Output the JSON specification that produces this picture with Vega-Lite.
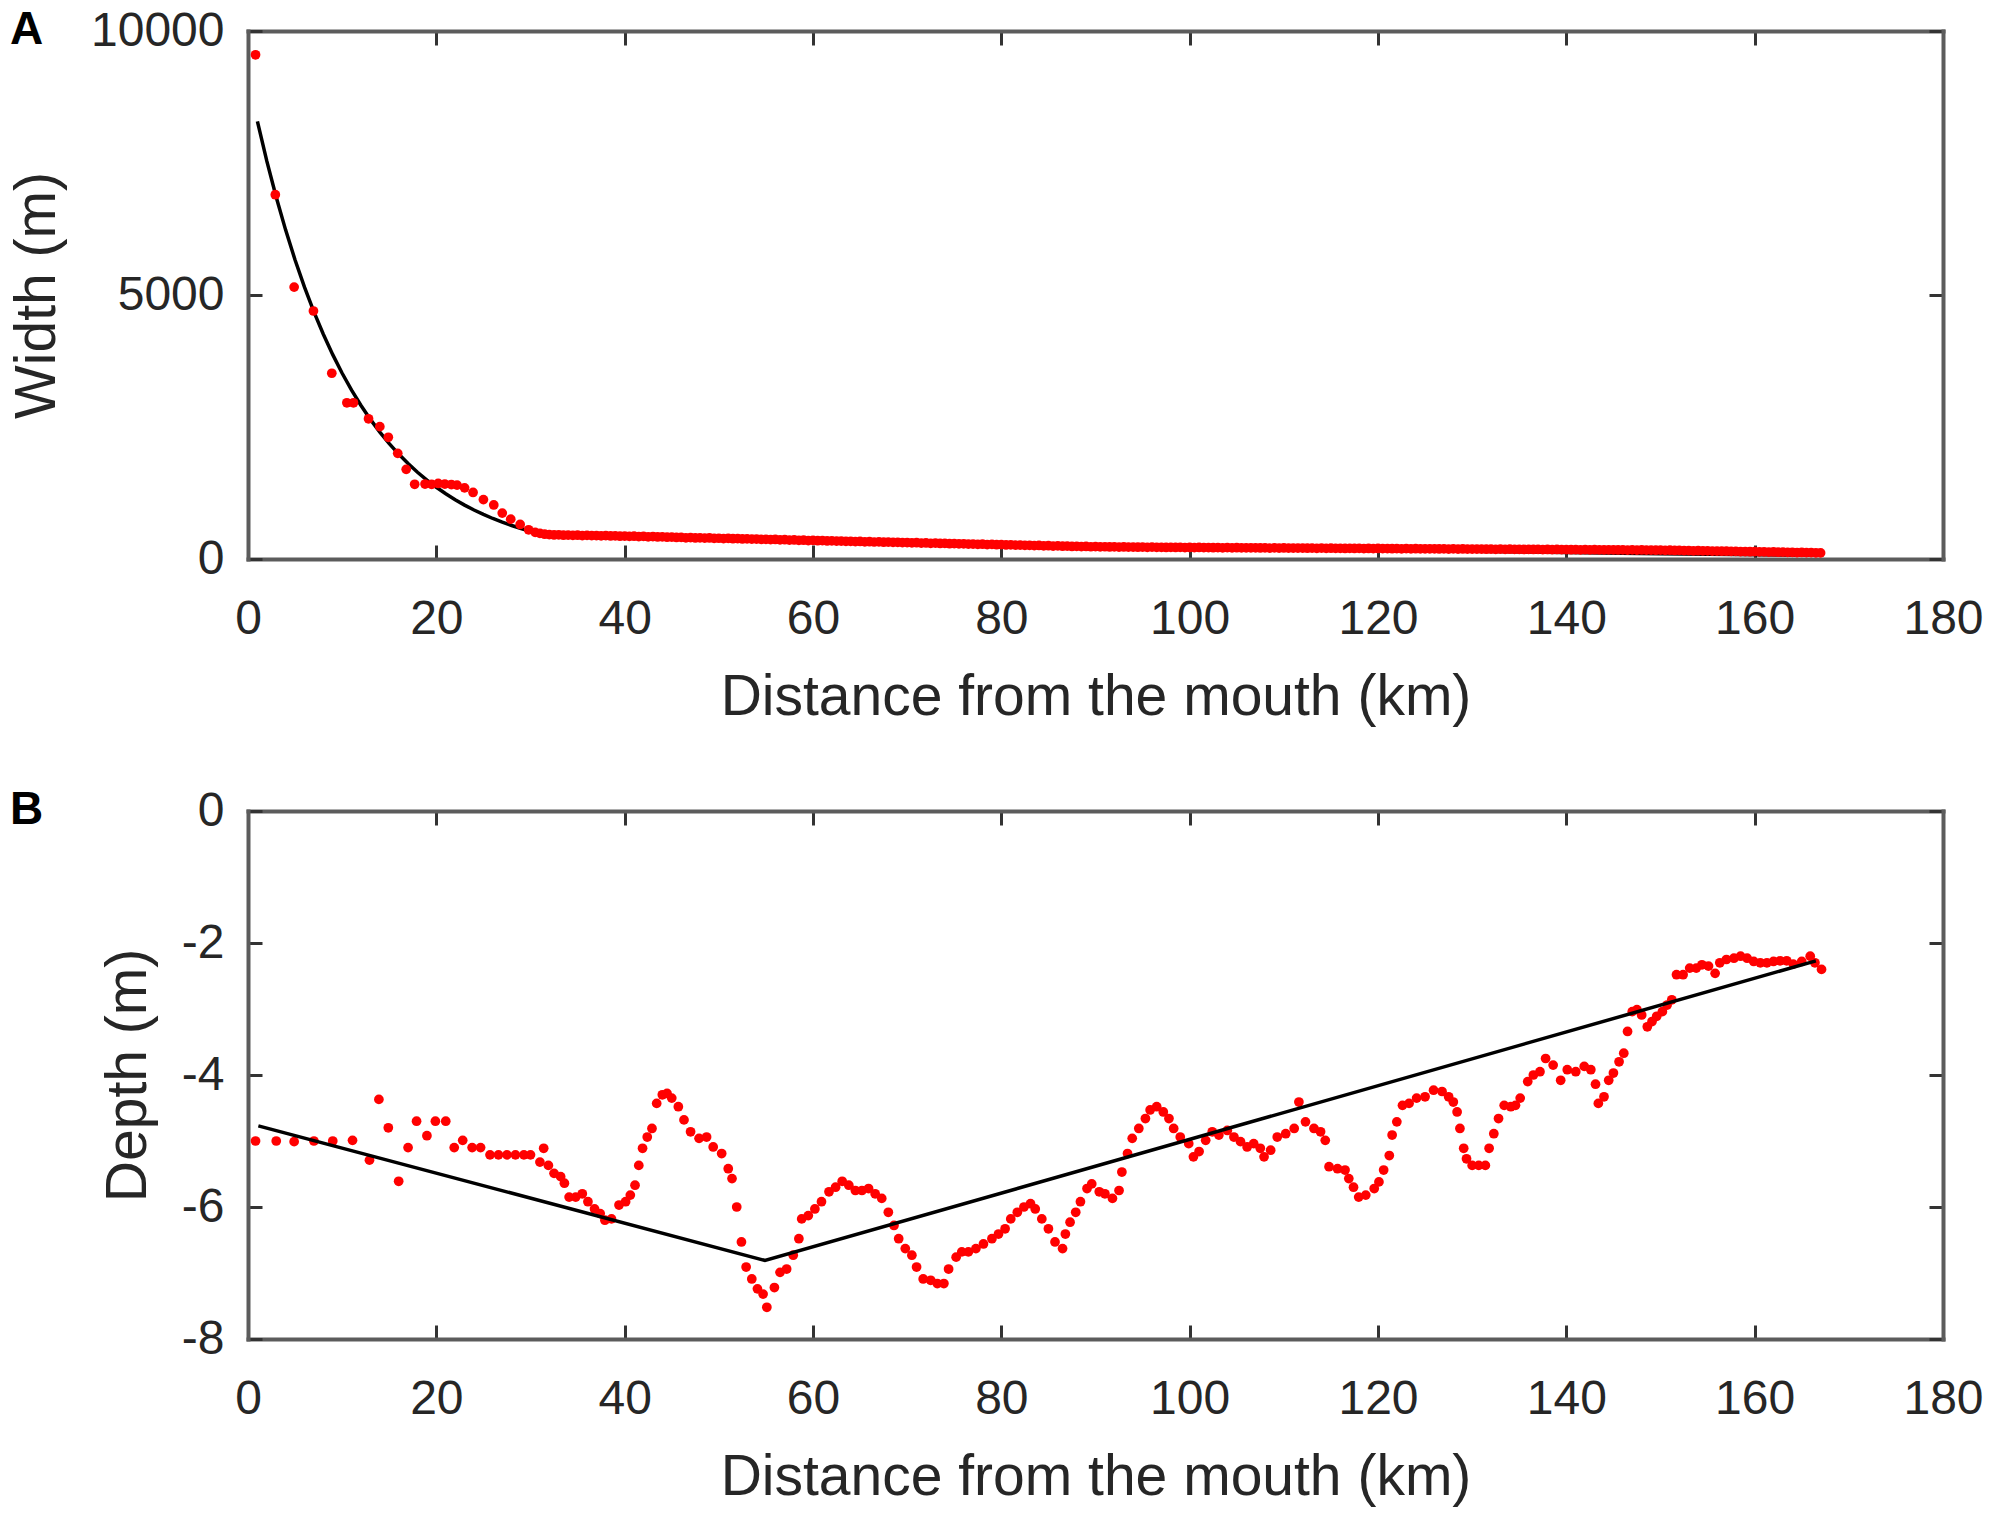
{
  "$schema": "https://vega.github.io/schema/vega-lite/v6.json",
  "padding": {"left": 8, "top": 7, "right": 5, "bottom": 5},
  "background": "white",
  "spacing": 62,
  "config": {
    "font": "Liberation Sans",
    "view": {"stroke": null},
    "axis": {
      "domainColor": "#5c5c5c",
      "domainWidth": 4,
      "domainCap": "square",
      "tickColor": "#333333",
      "tickWidth": 3,
      "tickSize": -14,
      "labelFont": "Liberation Sans",
      "labelFontSize": 48,
      "labelColor": "#262626",
      "titleFont": "Liberation Sans",
      "titleFontSize": 57,
      "titleFontWeight": "normal",
      "titleColor": "#262626",
      "grid": false,
      "labelFlush": false,
      "labelOverlap": false
    },
    "title": {"fontSize": 46, "fontWeight": "bold", "anchor": "start", "frame": "group", "color": "black", "offset": -47, "dx": -238}
  },
  "datasets": {
    "widthFit": [
      {"km": 1, "w": 8288}, {"km": 2, "w": 7535}, {"km": 3, "w": 6851}, {"km": 4, "w": 6229}, {"km": 5, "w": 5663},
      {"km": 6, "w": 5149}, {"km": 7, "w": 4681}, {"km": 8, "w": 4256}, {"km": 9, "w": 3870}, {"km": 10, "w": 3518},
      {"km": 11, "w": 3199}, {"km": 12, "w": 2908}, {"km": 13, "w": 2644}, {"km": 14, "w": 2404}, {"km": 15, "w": 2186},
      {"km": 16, "w": 1987}, {"km": 17, "w": 1807}, {"km": 18, "w": 1643}, {"km": 19, "w": 1494}, {"km": 20, "w": 1358},
      {"km": 21, "w": 1235}, {"km": 22, "w": 1123}, {"km": 23, "w": 1021}, {"km": 24, "w": 928}, {"km": 25, "w": 844},
      {"km": 26, "w": 767}, {"km": 27, "w": 697}, {"km": 28, "w": 634}, {"km": 29, "w": 577}, {"km": 30, "w": 524},
      {"km": 31, "w": 476}, {"km": 40, "w": 430}, {"km": 60, "w": 350}, {"km": 80, "w": 285}, {"km": 100, "w": 225},
      {"km": 120, "w": 170}, {"km": 134, "w": 135}, {"km": 150, "w": 100}, {"km": 167, "w": 70}
    ],
    "width": [
      {"km": 0.8, "w": 9550}, {"km": 2.9, "w": 6900}, {"km": 4.9, "w": 5150}, {"km": 6.95, "w": 4697}, {"km": 8.9, "w": 3518},
      {"km": 10.5, "w": 2958}, {"km": 11.2, "w": 2958}, {"km": 12.8, "w": 2655}, {"km": 14.0, "w": 2507}, {"km": 14.9, "w": 2305},
      {"km": 15.9, "w": 2001}, {"km": 16.8, "w": 1698}, {"km": 17.7, "w": 1415}, {"km": 18.8, "w": 1420}, {"km": 19.5, "w": 1415},
      {"km": 20.2, "w": 1430}, {"km": 20.9, "w": 1420}, {"km": 21.6, "w": 1410}, {"km": 22.2, "w": 1400}, {"km": 23.0, "w": 1348},
      {"km": 23.9, "w": 1260}, {"km": 25.0, "w": 1125}, {"km": 26.1, "w": 1024}, {"km": 27.0, "w": 869}, {"km": 27.9, "w": 755},
      {"km": 28.9, "w": 654}, {"km": 29.8, "w": 553}, {"km": 30.5, "w": 505},
      {"km": 31, "w": 485}, {"km": 31.5, "w": 470}, {"km": 32, "w": 462}, {"km": 32.5, "w": 455}, {"km": 33, "w": 458},
      {"km": 33.5, "w": 450}, {"km": 34, "w": 452}, {"km": 34.5, "w": 447}, {"km": 35, "w": 450}, {"km": 35.5, "w": 445},
      {"km": 36, "w": 448}, {"km": 36.5, "w": 442}, {"km": 37, "w": 444}, {"km": 37.5, "w": 440}, {"km": 38, "w": 442},
      {"km": 38.5, "w": 436}, {"km": 39, "w": 438}, {"km": 39.5, "w": 432}, {"km": 40, "w": 435}, {"km": 40.5, "w": 430},
      {"km": 41, "w": 432}, {"km": 41.5, "w": 426}, {"km": 42, "w": 428}, {"km": 42.5, "w": 420}, {"km": 43, "w": 425},
      {"km": 43.5, "w": 418}, {"km": 44, "w": 420}, {"km": 44.5, "w": 412}, {"km": 45, "w": 415}, {"km": 45.5, "w": 408},
      {"km": 46, "w": 410}, {"km": 46.5, "w": 402}, {"km": 47, "w": 405}, {"km": 47.5, "w": 398}, {"km": 48, "w": 400},
      {"km": 48.5, "w": 395}, {"km": 49, "w": 398}, {"km": 49.5, "w": 392}, {"km": 50, "w": 393}, {"km": 50.5, "w": 388},
      {"km": 51, "w": 390}, {"km": 51.5, "w": 384}, {"km": 52, "w": 386}, {"km": 52.5, "w": 380}, {"km": 53, "w": 382},
      {"km": 53.5, "w": 376}, {"km": 54, "w": 378}, {"km": 54.5, "w": 372}, {"km": 55, "w": 374}, {"km": 55.5, "w": 368},
      {"km": 56, "w": 370}, {"km": 56.5, "w": 362}, {"km": 57, "w": 365}, {"km": 57.5, "w": 358}, {"km": 58, "w": 360},
      {"km": 58.5, "w": 354}, {"km": 59, "w": 356}, {"km": 59.5, "w": 350}, {"km": 60, "w": 352}, {"km": 60.5, "w": 346},
      {"km": 61, "w": 348}, {"km": 61.5, "w": 342}, {"km": 62, "w": 344}, {"km": 62.5, "w": 338}, {"km": 63, "w": 340},
      {"km": 63.5, "w": 334}, {"km": 64, "w": 336}, {"km": 64.5, "w": 330}, {"km": 65, "w": 332}, {"km": 65.5, "w": 326},
      {"km": 66, "w": 328}, {"km": 66.5, "w": 322}, {"km": 67, "w": 325}, {"km": 67.5, "w": 318}, {"km": 68, "w": 320},
      {"km": 68.5, "w": 314}, {"km": 69, "w": 316}, {"km": 69.5, "w": 310}, {"km": 70, "w": 312}, {"km": 70.5, "w": 306},
      {"km": 71, "w": 308}, {"km": 71.5, "w": 302}, {"km": 72, "w": 304}, {"km": 72.5, "w": 298}, {"km": 73, "w": 300},
      {"km": 73.5, "w": 294}, {"km": 74, "w": 296}, {"km": 74.5, "w": 290}, {"km": 75, "w": 292}, {"km": 75.5, "w": 286},
      {"km": 76, "w": 288}, {"km": 76.5, "w": 282}, {"km": 77, "w": 284}, {"km": 77.5, "w": 278}, {"km": 78, "w": 280},
      {"km": 78.5, "w": 274}, {"km": 79, "w": 276}, {"km": 79.5, "w": 270}, {"km": 80, "w": 272}, {"km": 80.5, "w": 266},
      {"km": 81, "w": 268}, {"km": 81.5, "w": 262}, {"km": 82, "w": 264}, {"km": 82.5, "w": 258}, {"km": 83, "w": 260},
      {"km": 83.5, "w": 254}, {"km": 84, "w": 256}, {"km": 84.5, "w": 250}, {"km": 85, "w": 252}, {"km": 85.5, "w": 246},
      {"km": 86, "w": 248}, {"km": 86.5, "w": 242}, {"km": 87, "w": 244}, {"km": 87.5, "w": 238}, {"km": 88, "w": 240},
      {"km": 88.5, "w": 236}, {"km": 89, "w": 238}, {"km": 89.5, "w": 232}, {"km": 90, "w": 234}, {"km": 90.5, "w": 230},
      {"km": 91, "w": 232}, {"km": 91.5, "w": 228}, {"km": 92, "w": 230}, {"km": 92.5, "w": 226}, {"km": 93, "w": 228},
      {"km": 93.5, "w": 225}, {"km": 94, "w": 227}, {"km": 94.5, "w": 223}, {"km": 95, "w": 225}, {"km": 95.5, "w": 222},
      {"km": 96, "w": 224}, {"km": 96.5, "w": 220}, {"km": 97, "w": 222}, {"km": 97.5, "w": 219}, {"km": 98, "w": 221},
      {"km": 98.5, "w": 218}, {"km": 99, "w": 220}, {"km": 99.5, "w": 217}, {"km": 100, "w": 219}, {"km": 100.5, "w": 216},
      {"km": 101, "w": 218}, {"km": 101.5, "w": 215}, {"km": 102, "w": 217}, {"km": 102.5, "w": 214}, {"km": 103, "w": 216},
      {"km": 103.5, "w": 213}, {"km": 104, "w": 215}, {"km": 104.5, "w": 212}, {"km": 105, "w": 214}, {"km": 105.5, "w": 211},
      {"km": 106, "w": 213}, {"km": 106.5, "w": 210}, {"km": 107, "w": 212}, {"km": 107.5, "w": 209}, {"km": 108, "w": 211},
      {"km": 108.5, "w": 208}, {"km": 109, "w": 210}, {"km": 109.5, "w": 207}, {"km": 110, "w": 209}, {"km": 110.5, "w": 206},
      {"km": 111, "w": 208}, {"km": 111.5, "w": 205}, {"km": 112, "w": 207}, {"km": 112.5, "w": 204}, {"km": 113, "w": 206},
      {"km": 113.5, "w": 203}, {"km": 114, "w": 205}, {"km": 114.5, "w": 202}, {"km": 115, "w": 204}, {"km": 115.5, "w": 201},
      {"km": 116, "w": 203}, {"km": 116.5, "w": 200}, {"km": 117, "w": 202}, {"km": 117.5, "w": 199}, {"km": 118, "w": 201},
      {"km": 118.5, "w": 198}, {"km": 119, "w": 200}, {"km": 119.5, "w": 197}, {"km": 120, "w": 199}, {"km": 120.5, "w": 196},
      {"km": 121, "w": 198}, {"km": 121.5, "w": 195}, {"km": 122, "w": 197}, {"km": 122.5, "w": 194}, {"km": 123, "w": 196},
      {"km": 123.5, "w": 193}, {"km": 124, "w": 195}, {"km": 124.5, "w": 192}, {"km": 125, "w": 194}, {"km": 125.5, "w": 191},
      {"km": 126, "w": 193}, {"km": 126.5, "w": 190}, {"km": 127, "w": 192}, {"km": 127.5, "w": 189}, {"km": 128, "w": 191},
      {"km": 128.5, "w": 188}, {"km": 129, "w": 190}, {"km": 129.5, "w": 187}, {"km": 130, "w": 189}, {"km": 130.5, "w": 186},
      {"km": 131, "w": 188}, {"km": 131.5, "w": 185}, {"km": 132, "w": 187}, {"km": 132.5, "w": 184}, {"km": 133, "w": 186},
      {"km": 133.5, "w": 183}, {"km": 134, "w": 185}, {"km": 134.5, "w": 182}, {"km": 135, "w": 184}, {"km": 135.5, "w": 181},
      {"km": 136, "w": 183}, {"km": 136.5, "w": 180}, {"km": 137, "w": 182}, {"km": 137.5, "w": 179}, {"km": 138, "w": 181},
      {"km": 138.5, "w": 178}, {"km": 139, "w": 180}, {"km": 139.5, "w": 177}, {"km": 140, "w": 179}, {"km": 140.5, "w": 176},
      {"km": 141, "w": 178}, {"km": 141.5, "w": 175}, {"km": 142, "w": 177}, {"km": 142.5, "w": 174}, {"km": 143, "w": 176},
      {"km": 143.5, "w": 173}, {"km": 144, "w": 175}, {"km": 144.5, "w": 172}, {"km": 145, "w": 174}, {"km": 145.5, "w": 171},
      {"km": 146, "w": 173}, {"km": 146.5, "w": 170}, {"km": 147, "w": 172}, {"km": 147.5, "w": 169}, {"km": 148, "w": 171},
      {"km": 148.5, "w": 168}, {"km": 149, "w": 170}, {"km": 149.5, "w": 167}, {"km": 150, "w": 169}, {"km": 150.5, "w": 165},
      {"km": 151, "w": 166}, {"km": 151.5, "w": 162}, {"km": 152, "w": 163}, {"km": 152.5, "w": 159}, {"km": 153, "w": 160},
      {"km": 153.5, "w": 156}, {"km": 154, "w": 157}, {"km": 154.5, "w": 153}, {"km": 155, "w": 154}, {"km": 155.5, "w": 150},
      {"km": 156, "w": 151}, {"km": 156.5, "w": 147}, {"km": 157, "w": 148}, {"km": 157.5, "w": 144}, {"km": 158, "w": 145},
      {"km": 158.5, "w": 141}, {"km": 159, "w": 142}, {"km": 159.5, "w": 138}, {"km": 160, "w": 139}, {"km": 160.5, "w": 135},
      {"km": 161, "w": 136}, {"km": 161.5, "w": 132}, {"km": 162, "w": 133}, {"km": 162.5, "w": 129}, {"km": 163, "w": 130},
      {"km": 163.5, "w": 126}, {"km": 164, "w": 127}, {"km": 164.5, "w": 123}, {"km": 165, "w": 124}, {"km": 165.5, "w": 120},
      {"km": 166, "w": 121}, {"km": 166.5, "w": 118}, {"km": 167, "w": 115}
    ],
    "depthFit": [
      {"km": 1.1, "d": -4.77}, {"km": 54.9, "d": -6.81}, {"km": 166.5, "d": -2.27}
    ],
    "depth": [
      {"km": 0.8, "d": -5.00}, {"km": 3.0, "d": -5.00}, {"km": 4.9, "d": -5.01}, {"km": 7.0, "d": -5.00}, {"km": 9.0, "d": -5.00},
      {"km": 11.1, "d": -4.99}, {"km": 12.9, "d": -5.29}, {"km": 13.9, "d": -4.37}, {"km": 14.9, "d": -4.80}, {"km": 16.0, "d": -5.61},
      {"km": 17.0, "d": -5.10}, {"km": 17.9, "d": -4.70}, {"km": 19.0, "d": -4.92}, {"km": 19.9, "d": -4.70}, {"km": 21.0, "d": -4.70},
      {"km": 21.9, "d": -5.10}, {"km": 22.8, "d": -4.99}, {"km": 23.8, "d": -5.10}, {"km": 24.7, "d": -5.10}, {"km": 25.7, "d": -5.21},
      {"km": 26.6, "d": -5.21}, {"km": 27.5, "d": -5.21}, {"km": 28.4, "d": -5.21}, {"km": 29.3, "d": -5.21}, {"km": 30.0, "d": -5.21},
      {"km": 31.0, "d": -5.32}, {"km": 31.4, "d": -5.11}, {"km": 31.9, "d": -5.37}, {"km": 32.5, "d": -5.49}, {"km": 33.2, "d": -5.54},
      {"km": 33.6, "d": -5.64}, {"km": 34.1, "d": -5.85}, {"km": 34.8, "d": -5.85}, {"km": 35.5, "d": -5.80}, {"km": 36.1, "d": -5.92},
      {"km": 36.8, "d": -6.03}, {"km": 37.4, "d": -6.10}, {"km": 37.9, "d": -6.20}, {"km": 38.6, "d": -6.18}, {"km": 39.4, "d": -5.97},
      {"km": 40.1, "d": -5.92}, {"km": 40.6, "d": -5.82}, {"km": 41.1, "d": -5.67}, {"km": 41.5, "d": -5.37}, {"km": 41.9, "d": -5.11},
      {"km": 42.4, "d": -4.94}, {"km": 42.9, "d": -4.81}, {"km": 43.4, "d": -4.43}, {"km": 44.0, "d": -4.30}, {"km": 44.5, "d": -4.28},
      {"km": 45.0, "d": -4.35}, {"km": 45.7, "d": -4.48}, {"km": 46.3, "d": -4.68}, {"km": 47.0, "d": -4.86}, {"km": 47.9, "d": -4.96},
      {"km": 48.7, "d": -4.94}, {"km": 49.4, "d": -5.09}, {"km": 50.3, "d": -5.19}, {"km": 51.0, "d": -5.42}, {"km": 51.4, "d": -5.57},
      {"km": 51.9, "d": -6.00}, {"km": 52.4, "d": -6.53}, {"km": 52.9, "d": -6.91}, {"km": 53.5, "d": -7.09}, {"km": 54.1, "d": -7.24},
      {"km": 54.7, "d": -7.32}, {"km": 55.1, "d": -7.52}, {"km": 55.9, "d": -7.22}, {"km": 56.5, "d": -6.99}, {"km": 57.2, "d": -6.94},
      {"km": 57.9, "d": -6.73}, {"km": 58.5, "d": -6.48}, {"km": 58.8, "d": -6.18}, {"km": 59.5, "d": -6.13}, {"km": 60.2, "d": -6.03},
      {"km": 60.9, "d": -5.92}, {"km": 61.7, "d": -5.77}, {"km": 62.4, "d": -5.70}, {"km": 63.1, "d": -5.61}, {"km": 63.8, "d": -5.67},
      {"km": 64.5, "d": -5.75}, {"km": 65.2, "d": -5.75}, {"km": 65.9, "d": -5.72}, {"km": 66.6, "d": -5.80}, {"km": 67.3, "d": -5.87},
      {"km": 68.0, "d": -6.08}, {"km": 68.6, "d": -6.28}, {"km": 69.1, "d": -6.48}, {"km": 69.8, "d": -6.63}, {"km": 70.5, "d": -6.73},
      {"km": 71.0, "d": -6.91}, {"km": 71.7, "d": -7.09}, {"km": 72.5, "d": -7.11}, {"km": 73.2, "d": -7.16}, {"km": 73.9, "d": -7.16},
      {"km": 74.4, "d": -6.94}, {"km": 75.2, "d": -6.76}, {"km": 75.8, "d": -6.68}, {"km": 76.5, "d": -6.68}, {"km": 77.3, "d": -6.63},
      {"km": 78.1, "d": -6.56}, {"km": 79.0, "d": -6.48}, {"km": 79.7, "d": -6.41}, {"km": 80.4, "d": -6.33}, {"km": 81.0, "d": -6.18},
      {"km": 81.7, "d": -6.08}, {"km": 82.4, "d": -6.00}, {"km": 83.1, "d": -5.95}, {"km": 83.6, "d": -6.03}, {"km": 84.3, "d": -6.18},
      {"km": 85.0, "d": -6.33}, {"km": 85.7, "d": -6.53}, {"km": 86.5, "d": -6.63}, {"km": 86.8, "d": -6.41}, {"km": 87.3, "d": -6.23},
      {"km": 87.9, "d": -6.08}, {"km": 88.4, "d": -5.92}, {"km": 89.1, "d": -5.72}, {"km": 89.6, "d": -5.65}, {"km": 90.4, "d": -5.77},
      {"km": 91.0, "d": -5.80}, {"km": 91.8, "d": -5.87}, {"km": 92.5, "d": -5.75}, {"km": 92.8, "d": -5.47}, {"km": 93.4, "d": -5.19},
      {"km": 93.9, "d": -4.96}, {"km": 94.6, "d": -4.81}, {"km": 95.3, "d": -4.66}, {"km": 95.8, "d": -4.53}, {"km": 96.5, "d": -4.48},
      {"km": 97.2, "d": -4.56}, {"km": 97.8, "d": -4.66}, {"km": 98.3, "d": -4.81}, {"km": 99.0, "d": -4.94}, {"km": 99.9, "d": -5.04},
      {"km": 100.4, "d": -5.24}, {"km": 101.0, "d": -5.16}, {"km": 101.7, "d": -4.99}, {"km": 102.4, "d": -4.86}, {"km": 103.1, "d": -4.91},
      {"km": 104.0, "d": -4.84}, {"km": 104.7, "d": -4.94}, {"km": 105.4, "d": -5.01}, {"km": 106.1, "d": -5.09}, {"km": 106.8, "d": -5.04},
      {"km": 107.5, "d": -5.11}, {"km": 107.9, "d": -5.24}, {"km": 108.6, "d": -5.14}, {"km": 109.3, "d": -4.94}, {"km": 110.2, "d": -4.89},
      {"km": 111.1, "d": -4.81}, {"km": 111.6, "d": -4.41}, {"km": 112.3, "d": -4.71}, {"km": 113.2, "d": -4.81}, {"km": 113.9, "d": -4.86},
      {"km": 114.4, "d": -4.99}, {"km": 114.8, "d": -5.39}, {"km": 115.7, "d": -5.42}, {"km": 116.5, "d": -5.44}, {"km": 116.9, "d": -5.57},
      {"km": 117.4, "d": -5.70}, {"km": 117.95, "d": -5.85}, {"km": 118.7, "d": -5.82}, {"km": 119.6, "d": -5.72}, {"km": 120.1, "d": -5.62},
      {"km": 120.6, "d": -5.44}, {"km": 121.2, "d": -5.22}, {"km": 121.5, "d": -4.91}, {"km": 122.0, "d": -4.71}, {"km": 122.6, "d": -4.46},
      {"km": 123.3, "d": -4.43}, {"km": 124.1, "d": -4.35}, {"km": 125.0, "d": -4.33}, {"km": 125.9, "d": -4.23}, {"km": 126.8, "d": -4.25},
      {"km": 127.5, "d": -4.33}, {"km": 128.0, "d": -4.41}, {"km": 128.4, "d": -4.56}, {"km": 128.7, "d": -4.81}, {"km": 129.1, "d": -5.11},
      {"km": 129.4, "d": -5.27}, {"km": 130.0, "d": -5.37}, {"km": 130.7, "d": -5.37}, {"km": 131.4, "d": -5.37}, {"km": 131.8, "d": -5.11},
      {"km": 132.3, "d": -4.89}, {"km": 132.8, "d": -4.66}, {"km": 133.4, "d": -4.46}, {"km": 134.1, "d": -4.48}, {"km": 134.6, "d": -4.46},
      {"km": 135.1, "d": -4.35}, {"km": 135.9, "d": -4.10}, {"km": 136.5, "d": -4.00}, {"km": 137.2, "d": -3.95}, {"km": 137.8, "d": -3.75},
      {"km": 138.6, "d": -3.85}, {"km": 139.4, "d": -4.08}, {"km": 140.1, "d": -3.92}, {"km": 141.0, "d": -3.95}, {"km": 141.9, "d": -3.87},
      {"km": 142.6, "d": -3.92}, {"km": 143.1, "d": -4.14}, {"km": 143.4, "d": -4.43}, {"km": 144.0, "d": -4.33}, {"km": 144.5, "d": -4.08},
      {"km": 145.0, "d": -3.97}, {"km": 145.6, "d": -3.80}, {"km": 146.1, "d": -3.67}, {"km": 146.5, "d": -3.34}, {"km": 147.0, "d": -3.04},
      {"km": 147.5, "d": -3.01}, {"km": 148.0, "d": -3.09}, {"km": 148.6, "d": -3.27}, {"km": 149.1, "d": -3.19}, {"km": 149.6, "d": -3.11},
      {"km": 150.2, "d": -3.04}, {"km": 150.7, "d": -2.94}, {"km": 151.2, "d": -2.86}, {"km": 151.7, "d": -2.48}, {"km": 152.4, "d": -2.48},
      {"km": 153.1, "d": -2.38}, {"km": 153.8, "d": -2.38}, {"km": 154.4, "d": -2.33}, {"km": 155.1, "d": -2.35}, {"km": 155.8, "d": -2.46},
      {"km": 156.3, "d": -2.30}, {"km": 157.0, "d": -2.25}, {"km": 157.8, "d": -2.23}, {"km": 158.5, "d": -2.20}, {"km": 159.2, "d": -2.23},
      {"km": 159.9, "d": -2.28}, {"km": 160.6, "d": -2.30}, {"km": 161.3, "d": -2.30}, {"km": 162.0, "d": -2.28}, {"km": 162.7, "d": -2.27},
      {"km": 163.4, "d": -2.27}, {"km": 164.1, "d": -2.32}, {"km": 165.0, "d": -2.28}, {"km": 165.9, "d": -2.20}, {"km": 166.4, "d": -2.30},
      {"km": 167.1, "d": -2.40}
    ]
  },
  "vconcat": [
    {
      "title": {"text": "A"},
      "width": 1695,
      "height": 528,
      "resolve": {"axis": {"x": "independent", "y": "independent"}},
      "layer": [
        {
          "data": {"name": "widthFit"},
          "mark": {"type": "line", "color": "black", "strokeWidth": 3.5},
          "encoding": {
            "x": {"field": "km", "type": "quantitative", "scale": {"domain": [0, 180], "nice": false},
              "axis": {"orient": "top", "labels": false, "title": null, "values": [0, 20, 40, 60, 80, 100, 120, 140, 160, 180]}},
            "y": {"field": "w", "type": "quantitative", "scale": {"domain": [0, 10000], "nice": false},
              "axis": {"orient": "right", "labels": false, "title": null, "values": [0, 5000, 10000]}}
          }
        },
        {
          "data": {"name": "width"},
          "mark": {"type": "circle", "color": "#ff0000", "size": 95, "opacity": 1},
          "encoding": {
            "x": {"field": "km", "type": "quantitative", "scale": {"domain": [0, 180], "nice": false},
              "axis": {"orient": "bottom", "title": "Distance from the mouth (km)", "values": [0, 20, 40, 60, 80, 100, 120, 140, 160, 180], "labelPadding": 50, "titlePadding": 26}},
            "y": {"field": "w", "type": "quantitative", "scale": {"domain": [0, 10000], "nice": false},
              "axis": {"orient": "left", "title": "Width (m)", "values": [0, 5000, 10000], "format": "d", "labelPadding": 38, "titlePadding": 24}}
          }
        }
      ]
    },
    {
      "title": {"text": "B"},
      "width": 1695,
      "height": 528,
      "resolve": {"axis": {"x": "independent", "y": "independent"}},
      "layer": [
        {
          "data": {"name": "depth"},
          "mark": {"type": "circle", "color": "#ff0000", "size": 95, "opacity": 1},
          "encoding": {
            "x": {"field": "km", "type": "quantitative", "scale": {"domain": [0, 180], "nice": false},
              "axis": {"orient": "bottom", "title": "Distance from the mouth (km)", "values": [0, 20, 40, 60, 80, 100, 120, 140, 160, 180], "labelPadding": 50, "titlePadding": 26}},
            "y": {"field": "d", "type": "quantitative", "scale": {"domain": [-8, 0], "nice": false},
              "axis": {"orient": "left", "title": "Depth (m)", "values": [-8, -6, -4, -2, 0], "labelExpr": "'' + datum.value", "labelPadding": 38, "titlePadding": 24}}
          }
        },
        {
          "data": {"name": "depthFit"},
          "mark": {"type": "line", "color": "black", "strokeWidth": 3.5},
          "encoding": {
            "x": {"field": "km", "type": "quantitative", "scale": {"domain": [0, 180], "nice": false},
              "axis": {"orient": "top", "labels": false, "title": null, "values": [0, 20, 40, 60, 80, 100, 120, 140, 160, 180]}},
            "y": {"field": "d", "type": "quantitative", "scale": {"domain": [-8, 0], "nice": false},
              "axis": {"orient": "right", "labels": false, "title": null, "values": [-8, -6, -4, -2, 0]}}
          }
        }
      ]
    }
  ]
}
